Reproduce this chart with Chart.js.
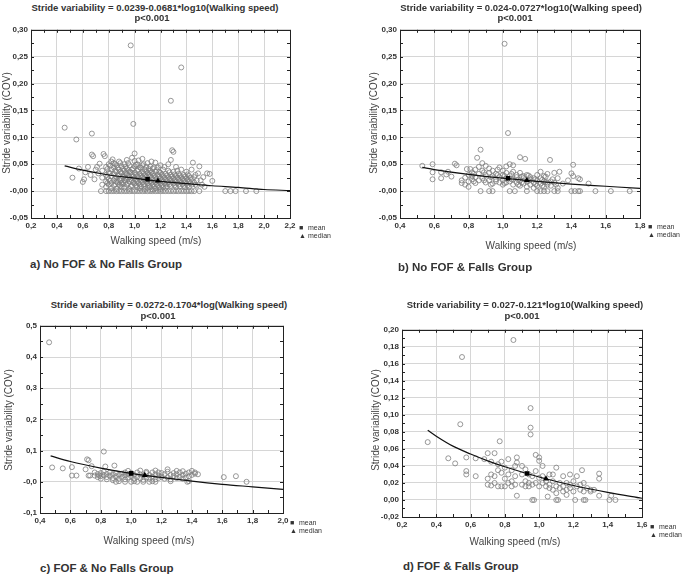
<!DOCTYPE html>
<html>
<head>
<meta charset="utf-8">
<script src="https://cdn.jsdelivr.net/npm/chart.js@4.4.1/dist/chart.umd.min.js"></script>
<style>
  body { margin: 0; background: #fff; font-family: 'Liberation Sans', Arial, sans-serif; }
  #page { position: relative; width: 685px; height: 576px; overflow: hidden; }
  canvas { position: absolute; }
  .t { position: absolute; white-space: nowrap; transform: translate(-50%, -50%); color: #333; z-index: 2; }
  .title { font-size: 9.5px; font-weight: bold; }
  .ylab { font-size: 10px; transform: translate(-50%, -50%) rotate(-90deg); color: #444; }
  .xlab { font-size: 10px; color: #444; }
  .cap { position: absolute; white-space: nowrap; font-size: 11.5px; font-weight: bold; color: #333; transform: translateY(-50%); }
  .leg { position: absolute; font-size: 7px; color: #333; line-height: 8px; }
  .leg span { display: inline-block; width: 9px; font-size: 7px; }
</style>
</head>
<body>
<div id="page">
  <canvas id="chartA" width="302" height="216" style="left:0px;top:22px"></canvas>
  <canvas id="chartB" width="283" height="216" style="left:369px;top:22px"></canvas>
  <canvas id="chartC" width="286" height="215" style="left:9px;top:318px"></canvas>
  <canvas id="chartD" width="283" height="215" style="left:371px;top:322px"></canvas>

  <div class="t title" style="left:155px;top:7px">Stride variability = 0.0239-0.0681*log10(Walking speed)</div>
  <div class="t title" style="left:152px;top:17px">p&lt;0.001</div>
  <div class="t ylab" style="left:6px;top:123px">Stride variability (COV)</div>
  <div class="t xlab" style="left:156px;top:240px">Walking speed (m/s)</div>
  <div class="cap" style="left:30px;top:264px">a) No FOF &amp; No Falls Group</div>
  <div class="leg" style="left:299px;top:224px"><span>&#9632;</span>mean<br><span>&#9650;</span>median</div>

  <div class="t title" style="left:521px;top:7px">Stride variability = 0.024-0.0727*log10(Walking speed)</div>
  <div class="t title" style="left:515px;top:17px">p&lt;0.001</div>
  <div class="t ylab" style="left:373px;top:123px">Stride variability (COV)</div>
  <div class="t xlab" style="left:531px;top:245px">Walking speed (m/s)</div>
  <div class="cap" style="left:398px;top:267px">b) No FOF &amp; Falls Group</div>
  <div class="leg" style="left:648px;top:223px"><span>&#9632;</span>mean<br><span>&#9650;</span>median</div>

  <div class="t title" style="left:169px;top:304px">Stride variability = 0.0272-0.1704*log(Walking speed)</div>
  <div class="t title" style="left:158px;top:315px">p&lt;0.001</div>
  <div class="t ylab" style="left:8px;top:420px">Stride variability (COV)</div>
  <div class="t xlab" style="left:149px;top:540px">Walking speed (m/s)</div>
  <div class="cap" style="left:40px;top:568px">c) FOF &amp; No Falls Group</div>
  <div class="leg" style="left:290px;top:519px"><span>&#9632;</span>mean<br><span>&#9650;</span>median</div>

  <div class="t title" style="left:525px;top:304px">Stride variability = 0.027-0.121*log10(Walking speed)</div>
  <div class="t title" style="left:522px;top:315px">p&lt;0.001</div>
  <div class="t ylab" style="left:375px;top:420px">Stride variability (COV)</div>
  <div class="t xlab" style="left:515px;top:541px">Walking speed (m/s)</div>
  <div class="cap" style="left:403px;top:566px">d) FOF &amp; Falls Group</div>
  <div class="leg" style="left:650px;top:523px"><span>&#9632;</span>mean<br><span>&#9650;</span>median</div>
</div>

<script>
// Each row is [walking speed, stride variability, stride variability, ...]
// (several subjects sharing roughly the same speed are kept in one row)

// a) No FOF & No Falls
const groupAPoints = [
    [0.46, 0.118], [0.52, 0.025], [0.55, 0.096], [0.57, 0.042], [0.60, 0.017], [0.61, 0.022],
    [0.62, 0.035], [0.64, 0.045], [0.66, 0.030], [0.67, 0.107, 0.068], [0.68, 0.065], [0.69, 0.022],
    [0.70, 0.040], [0.71, 0.045], [0.72, 0.033], [0.73, 0.051], [0.74, 0.000], [0.75, 0.012, 0.025, 0.038],
    [0.76, 0.069], [0.77, 0.065], [0.78, 0.000, 0.018, 0.030, 0.045, 0.008], [0.79, 0.026, 0.041, 0.015],
    [0.80, 0.000, 0.022, 0.035, 0.050, 0.012], [0.81, 0.033, 0.019, 0.047],
    [0.82, 0.000, 0.015, 0.028, 0.040, 0.055, 0.005], [0.83, 0.059], [0.84, 0.000, 0.020, 0.032, 0.044, 0.052, 0.010],
    [0.85, 0.024, 0.038, 0.013, 0.050], [0.86, 0.000, 0.018, 0.026, 0.036, 0.048, 0.004], [0.87, 0.029, 0.016, 0.043],
    [0.88, 0.000, 0.022, 0.030, 0.040, 0.055, 0.012], [0.89, 0.020, 0.036, 0.052, 0.010],
    [0.90, 0.000, 0.015, 0.024, 0.034, 0.046, 0.008], [0.91, 0.027, 0.041, 0.013],
    [0.92, 0.000, 0.020, 0.028, 0.038, 0.050, 0.006], [0.93, 0.017, 0.033, 0.045, 0.024],
    [0.94, 0.000, 0.012, 0.022, 0.032, 0.042, 0.058], [0.95, 0.029, 0.039, 0.014, 0.052],
    [0.96, 0.000, 0.018, 0.026, 0.036, 0.048, 0.004], [0.97, 0.271, 0.023, 0.035, 0.009],
    [0.98, 0.000, 0.010, 0.020, 0.030, 0.040, 0.062], [0.99, 0.125, 0.027, 0.042, 0.016],
    [1.00, 0.000, 0.014, 0.024, 0.034, 0.046, 0.056, 0.070], [1.01, 0.021, 0.031, 0.049, 0.011],
    [1.02, 0.000, 0.008, 0.018, 0.028, 0.038, 0.050], [1.03, 0.026, 0.040, 0.015, 0.057],
    [1.04, 0.000, 0.012, 0.022, 0.032, 0.044, 0.005], [1.05, 0.019, 0.029, 0.043, 0.009],
    [1.06, 0.000, 0.016, 0.026, 0.036, 0.048, 0.060], [1.07, 0.023, 0.033, 0.013, 0.050],
    [1.08, 0.000, 0.010, 0.020, 0.030, 0.040, 0.004], [1.09, 0.017, 0.027, 0.045, 0.037],
    [1.10, 0.000, 0.014, 0.024, 0.034, 0.052, 0.006], [1.11, 0.021, 0.031, 0.011, 0.041],
    [1.12, 0.000, 0.008, 0.018, 0.028, 0.038, 0.046], [1.13, 0.015, 0.025, 0.035, 0.055],
    [1.14, 0.000, 0.012, 0.022, 0.032, 0.042, 0.003], [1.15, 0.019, 0.029, 0.009, 0.044],
    [1.16, 0.000, 0.016, 0.026, 0.036, 0.053, 0.005], [1.17, 0.023, 0.013, 0.039],
    [1.18, 0.000, 0.010, 0.020, 0.030, 0.044], [1.19, 0.017, 0.027, 0.007, 0.036],
    [1.20, 0.000, 0.014, 0.024, 0.034, 0.048, 0.004], [1.21, 0.021, 0.031, 0.011],
    [1.22, 0.000, 0.008, 0.018, 0.028, 0.040], [1.23, 0.015, 0.025, 0.045],
    [1.24, 0.000, 0.012, 0.022, 0.032, 0.006], [1.25, 0.019, 0.029, 0.009],
    [1.26, 0.000, 0.016, 0.026, 0.038, 0.050], [1.27, 0.013, 0.023, 0.035],
    [1.28, 0.000, 0.010, 0.020, 0.030, 0.058, 0.168], [1.29, 0.076, 0.017, 0.027],
    [1.30, 0.000, 0.014, 0.024, 0.036, 0.073], [1.31, 0.011, 0.021, 0.031],
    [1.32, 0.000, 0.008, 0.018, 0.028, 0.045], [1.33, 0.015, 0.025, 0.038],
    [1.34, 0.000, 0.012, 0.022, 0.032], [1.35, 0.009, 0.019, 0.029],
    [1.36, 0.000, 0.016, 0.026, 0.040, 0.230], [1.37, 0.013, 0.023],
    [1.38, 0.000, 0.010, 0.020, 0.030], [1.39, 0.017, 0.027, 0.007],
    [1.40, 0.000, 0.014, 0.024, 0.036], [1.41, 0.011, 0.021, 0.031],
    [1.42, 0.000, 0.008, 0.018, 0.028], [1.43, 0.015, 0.025],
    [1.44, 0.000, 0.012, 0.022, 0.040], [1.45, 0.053], [1.46, 0.000, 0.016, 0.026], [1.47, 0.012, 0.030],
    [1.48, 0.010, 0.020], [1.49, 0.033], [1.50, 0.000, 0.046], [1.51, 0.020], [1.52, 0.012], [1.53, 0.026],
    [1.54, 0.008], [1.56, 0.033], [1.58, 0.032], [1.60, 0.019], [1.70, 0.000], [1.74, 0.000],
    [1.78, 0.000], [1.86, 0.000], [1.94, 0.000]
];
const groupAFit = [[0.46, 0.047], [0.6, 0.039], [0.8, 0.030], [1.0, 0.024], [1.2, 0.018], [1.4, 0.014], [1.6, 0.010], [1.8, 0.007], [2.0, 0.003], [2.2, 0.001]];
const groupAMean = [1.10, 0.022];
const groupAMedian = [1.18, 0.019];

// b) No FOF & Falls
const groupBPoints = [
    [0.53, 0.047], [0.59, 0.050, 0.035, 0.022], [0.64, 0.035, 0.024], [0.67, 0.031], [0.68, 0.036],
    [0.70, 0.027], [0.72, 0.051], [0.73, 0.048], [0.76, 0.015, 0.020], [0.78, 0.025, 0.012],
    [0.79, 0.041], [0.80, 0.030, 0.018, 0.008], [0.81, 0.041], [0.82, 0.028, 0.022, 0.035],
    [0.83, 0.018, 0.032], [0.84, 0.040, 0.015, 0.026], [0.85, 0.062], [0.86, 0.032, 0.020, 0.045],
    [0.87, 0.077, 0.000], [0.88, 0.038, 0.052, 0.024], [0.89, 0.020, 0.035], [0.90, 0.030, 0.047, 0.016],
    [0.92, 0.034, 0.020, 0.042, 0.000], [0.93, 0.026, 0.012], [0.94, 0.028, 0.014, 0.038, 0.000],
    [0.96, 0.022, 0.032, 0.018], [0.97, 0.030, 0.040], [0.98, 0.016, 0.026, 0.044],
    [1.00, 0.020, 0.030, 0.038, 0.012], [1.01, 0.274, 0.015, 0.028], [1.02, 0.024, 0.034, 0.046, 0.016],
    [1.03, 0.108], [1.04, 0.018, 0.028, 0.050, 0.000], [1.05, 0.022, 0.032], [1.06, 0.012, 0.022, 0.036, 0.048],
    [1.07, 0.000], [1.08, 0.016, 0.026, 0.030], [1.09, 0.012, 0.021], [1.10, 0.010, 0.020, 0.034, 0.063],
    [1.11, 0.027, 0.016], [1.12, 0.014, 0.024, 0.028], [1.13, 0.060], [1.14, 0.008, 0.018, 0.030, 0.000],
    [1.15, 0.019, 0.029], [1.16, 0.012, 0.022, 0.026], [1.18, 0.016, 0.024, 0.006], [1.19, 0.013, 0.022],
    [1.20, 0.010, 0.020, 0.030, 0.000], [1.22, 0.014, 0.024, 0.036, 0.000], [1.23, 0.021, 0.010],
    [1.24, 0.008, 0.018, 0.028, 0.000], [1.25, 0.017, 0.027], [1.26, 0.012, 0.016, 0.032, 0.000],
    [1.275, 0.058], [1.28, 0.018, 0.010], [1.29, 0.022], [1.30, 0.016, 0.034, 0.000], [1.31, 0.012],
    [1.32, 0.006, 0.024, 0.000], [1.33, 0.036], [1.35, 0.014], [1.38, 0.020], [1.40, 0.033, 0.000],
    [1.41, 0.049, 0.028], [1.42, 0.000], [1.44, 0.024, 0.000], [1.45, 0.022, 0.000], [1.50, 0.014],
    [1.54, 0.000], [1.63, 0.000], [1.74, 0.000]
];
const groupBFit = [[0.53, 0.044], [0.6, 0.040], [0.8, 0.031], [1.0, 0.024], [1.2, 0.018], [1.4, 0.013], [1.6, 0.009], [1.8, 0.005]];
const groupBMean = [1.03, 0.024];
const groupBMedian = [1.14, 0.020];

// c) FOF & No Falls
const groupCPoints = [
    [0.46, 0.447], [0.48, 0.046], [0.55, 0.043], [0.61, 0.047, 0.020], [0.64, 0.020], [0.70, 0.040],
    [0.71, 0.072], [0.72, 0.069, 0.020], [0.73, 0.020], [0.74, 0.050], [0.76, 0.020, 0.030],
    [0.78, 0.025, 0.015], [0.79, 0.020], [0.80, 0.028, 0.018, 0.010], [0.82, 0.097, 0.022, 0.032],
    [0.83, 0.049], [0.84, 0.015, 0.025, 0.008], [0.86, 0.020, 0.030], [0.88, 0.012, 0.024, 0.005],
    [0.89, 0.052], [0.90, 0.018, 0.028, 0.000], [0.92, 0.010, 0.022, 0.002], [0.94, 0.016, 0.026],
    [0.96, 0.008, 0.030, 0.020, 0.000], [0.98, 0.014, 0.024, 0.035], [1.00, 0.018, 0.028, 0.000],
    [1.02, 0.010, 0.022, 0.002], [1.04, 0.016, 0.030, 0.000], [1.06, 0.012, 0.024, 0.036],
    [1.08, 0.006, 0.020, 0.000], [1.10, 0.014, 0.028, 0.032], [1.12, 0.010, 0.022, 0.000],
    [1.14, 0.016, 0.030, 0.002], [1.16, 0.008, 0.024, 0.036, 0.000], [1.18, 0.012, 0.020, 0.030],
    [1.20, 0.016, 0.028], [1.22, 0.010, 0.024], [1.24, 0.014, 0.032, 0.040], [1.26, 0.008, 0.022, 0.002],
    [1.28, 0.018, 0.028], [1.30, 0.012, 0.035, 0.024], [1.32, 0.016, 0.030], [1.34, 0.010, 0.022, 0.034],
    [1.36, 0.014, 0.026], [1.37, 0.000], [1.38, 0.002, 0.018, 0.030], [1.40, 0.022, 0.035],
    [1.42, 0.026, 0.030], [1.44, 0.024], [1.61, 0.015], [1.69, 0.018], [1.76, 0.000]
];
const groupCFit = [[0.47, 0.083], [0.6, 0.065], [0.8, 0.044], [1.0, 0.027], [1.2, 0.014], [1.4, 0.002], [1.6, -0.008], [1.8, -0.016], [2.0, -0.024]];
const groupCMean = [1.00, 0.027];
const groupCMedian = [1.09, 0.021];

// d) FOF & Falls
const groupDPoints = [
    [0.35, 0.068], [0.47, 0.049], [0.51, 0.043], [0.54, 0.089], [0.55, 0.168], [0.575, 0.050, 0.034, 0.030],
    [0.63, 0.028, 0.049], [0.68, 0.048], [0.70, 0.025, 0.018, 0.055], [0.72, 0.017, 0.045, 0.030],
    [0.74, 0.028, 0.055, 0.020], [0.76, 0.016, 0.035, 0.042], [0.77, 0.069], [0.78, 0.016, 0.045, 0.032],
    [0.80, 0.016, 0.025, 0.038], [0.82, 0.020, 0.048, 0.030], [0.84, 0.022, 0.035, 0.016],
    [0.85, 0.188], [0.86, 0.018, 0.028, 0.040], [0.87, 0.005, 0.044, 0.050], [0.90, 0.018, 0.030, 0.040],
    [0.92, 0.016, 0.022, 0.036], [0.94, 0.020, 0.030, 0.016], [0.95, 0.108, 0.085, 0.077],
    [0.96, 0.018, 0.028, 0.000], [0.97, 0.000], [0.98, 0.020, 0.053, 0.034], [1.00, 0.016, 0.046, 0.026, 0.050],
    [1.02, 0.028, 0.020, 0.040], [1.04, 0.016, 0.022], [1.05, 0.004], [1.06, 0.014, 0.030, 0.018],
    [1.08, 0.012, 0.022, 0.030], [1.10, 0.008, 0.038, 0.016, 0.000], [1.11, 0.000], [1.12, 0.014, 0.020],
    [1.14, 0.010, 0.028, 0.016], [1.16, 0.006, 0.012, 0.020], [1.18, 0.014, 0.030, 0.018],
    [1.20, 0.010, 0.022], [1.21, 0.000], [1.22, 0.016, 0.028], [1.24, 0.012, 0.018], [1.25, 0.035],
    [1.26, 0.010, 0.020, 0.000], [1.27, 0.000], [1.28, 0.014], [1.30, 0.012, 0.010], [1.32, 0.012],
    [1.35, 0.031, 0.025, 0.005], [1.41, 0.000], [1.42, 0.005], [1.445, 0.000]
];
const groupDFit = [[0.35, 0.082], [0.4, 0.075], [0.5, 0.063], [0.6, 0.054], [0.7, 0.046], [0.8, 0.039], [1.0, 0.027], [1.2, 0.017], [1.4, 0.009], [1.6, 0.002]];
const groupDMean = [0.93, 0.031];
const groupDMedian = [1.04, 0.025];

// Axis ranges: [min, max, step, decimals]
const xAxisA = [0.2, 2.2, 0.2, 1];
const yAxisA = [-0.05, 0.30, 0.05, 2];
const xAxisB = [0.4, 1.8, 0.2, 1];
const yAxisB = [-0.05, 0.30, 0.05, 2];
const xAxisC = [0.4, 2.0, 0.2, 1];
const yAxisC = [-0.1, 0.5, 0.1, 1];
const xAxisD = [0.2, 1.6, 0.2, 1];
const yAxisD = [-0.02, 0.20, 0.02, 2];


function toXY(rows) {
    let out = [];
    for (let i = 0; i < rows.length; i++) {
        for (let j = 1; j < rows[i].length; j++) {
            out.push({ x: rows[i][0], y: rows[i][j] });
        }
    }
    return out;
}

function pairs(list) {
    return list.map(p => ({ x: p[0], y: p[1] }));
}

// box round the plot area with small inward ticks, like the original plots
const frameBox = {
    id: 'frameBox',
    afterDraw(chart) {
        let a = chart.chartArea;
        let ctx = chart.ctx;
        let xs = chart.scales.x;
        let ys = chart.scales.y;
        ctx.save();
        ctx.strokeStyle = '#222';
        ctx.lineWidth = 1;
        ctx.strokeRect(Math.round(a.left) + 0.5, Math.round(a.top) + 0.5, Math.round(a.right - a.left), Math.round(a.bottom - a.top));
        ctx.beginPath();
        let xStep = (xs.max - xs.min) / (xs.ticks.length - 1) / 2;
        for (let v = xs.min; v <= xs.max + 1e-9; v += xStep) {
            let px = Math.round(xs.getPixelForValue(v)) + 0.5;
            ctx.moveTo(px, a.bottom); ctx.lineTo(px, a.bottom - 3);
            ctx.moveTo(px, a.top); ctx.lineTo(px, a.top + 3);
        }
        let yStep = (ys.max - ys.min) / (ys.ticks.length - 1) / 2;
        for (let v = ys.min; v <= ys.max + 1e-9; v += yStep) {
            let py = Math.round(ys.getPixelForValue(v)) + 0.5;
            ctx.moveTo(a.left, py); ctx.lineTo(a.left + 3, py);
            ctx.moveTo(a.right, py); ctx.lineTo(a.right - 3, py);
        }
        ctx.stroke();
        ctx.restore();
    }
};

function axisOptions(range, isX, fitSize) {
    return {
        type: 'linear',
        min: range[0],
        max: range[1],
        ticks: {
            stepSize: range[2],
            padding: 3,
            color: '#333',
            font: { family: "'Liberation Sans', Arial", size: 8, weight: 'bold' },
            maxRotation: 0,
            callback: v => v.toFixed(range[3]).replace('.', ',')
        },
        grid: { color: '#d6d6d6', drawTicks: false, lineWidth: 1 },
        border: { display: false },
        afterFit: scale => {
            if (isX) {
                scale.height = fitSize;
            } else {
                scale.width = fitSize;
            }
        }
    };
}

function makePanel(canvasId, rows, fit, mean, median, xRange, yRange, yWidth, padTop) {
    let config = {
        type: 'scatter',
        data: {
            datasets: [
                { label: 'mean', data: pairs([mean]), pointStyle: 'rect', pointRadius: 3.2, backgroundColor: '#000', borderColor: '#000', borderWidth: 0 },
                { label: 'median', data: pairs([median]), pointStyle: 'triangle', pointRadius: 3.4, backgroundColor: '#000', borderColor: '#000', borderWidth: 0 },
                { label: 'fit', type: 'line', data: pairs(fit), borderColor: '#111', borderWidth: 1.2, pointRadius: 0, fill: false, cubicInterpolationMode: 'monotone' },
                { label: 'subjects', data: toXY(rows), pointStyle: 'circle', pointRadius: 2.5, borderWidth: 0.8, borderColor: '#7f7f7f', backgroundColor: 'rgba(0,0,0,0)' }
            ]
        },
        options: {
            responsive: false,
            animation: false,
            layout: { padding: { top: padTop, right: 12, left: 0, bottom: 0 } },
            plugins: { legend: { display: false }, tooltip: { enabled: false } },
            scales: {
                x: axisOptions(xRange, true, 20),
                y: axisOptions(yRange, false, yWidth)
            }
        },
        plugins: [frameBox]
    };
    return new Chart(document.getElementById(canvasId), config);
}

makePanel('chartA', groupAPoints, groupAFit, groupAMean, groupAMedian, xAxisA, yAxisA, 31, 7);
makePanel('chartB', groupBPoints, groupBFit, groupBMean, groupBMedian, xAxisB, yAxisB, 31, 7);
makePanel('chartC', groupCPoints, groupCFit, groupCMean, groupCMedian, xAxisC, yAxisC, 31, 7);
makePanel('chartD', groupDPoints, groupDFit, groupDMean, groupDMedian, xAxisD, yAxisD, 31, 7);
</script>
</body>
</html>
